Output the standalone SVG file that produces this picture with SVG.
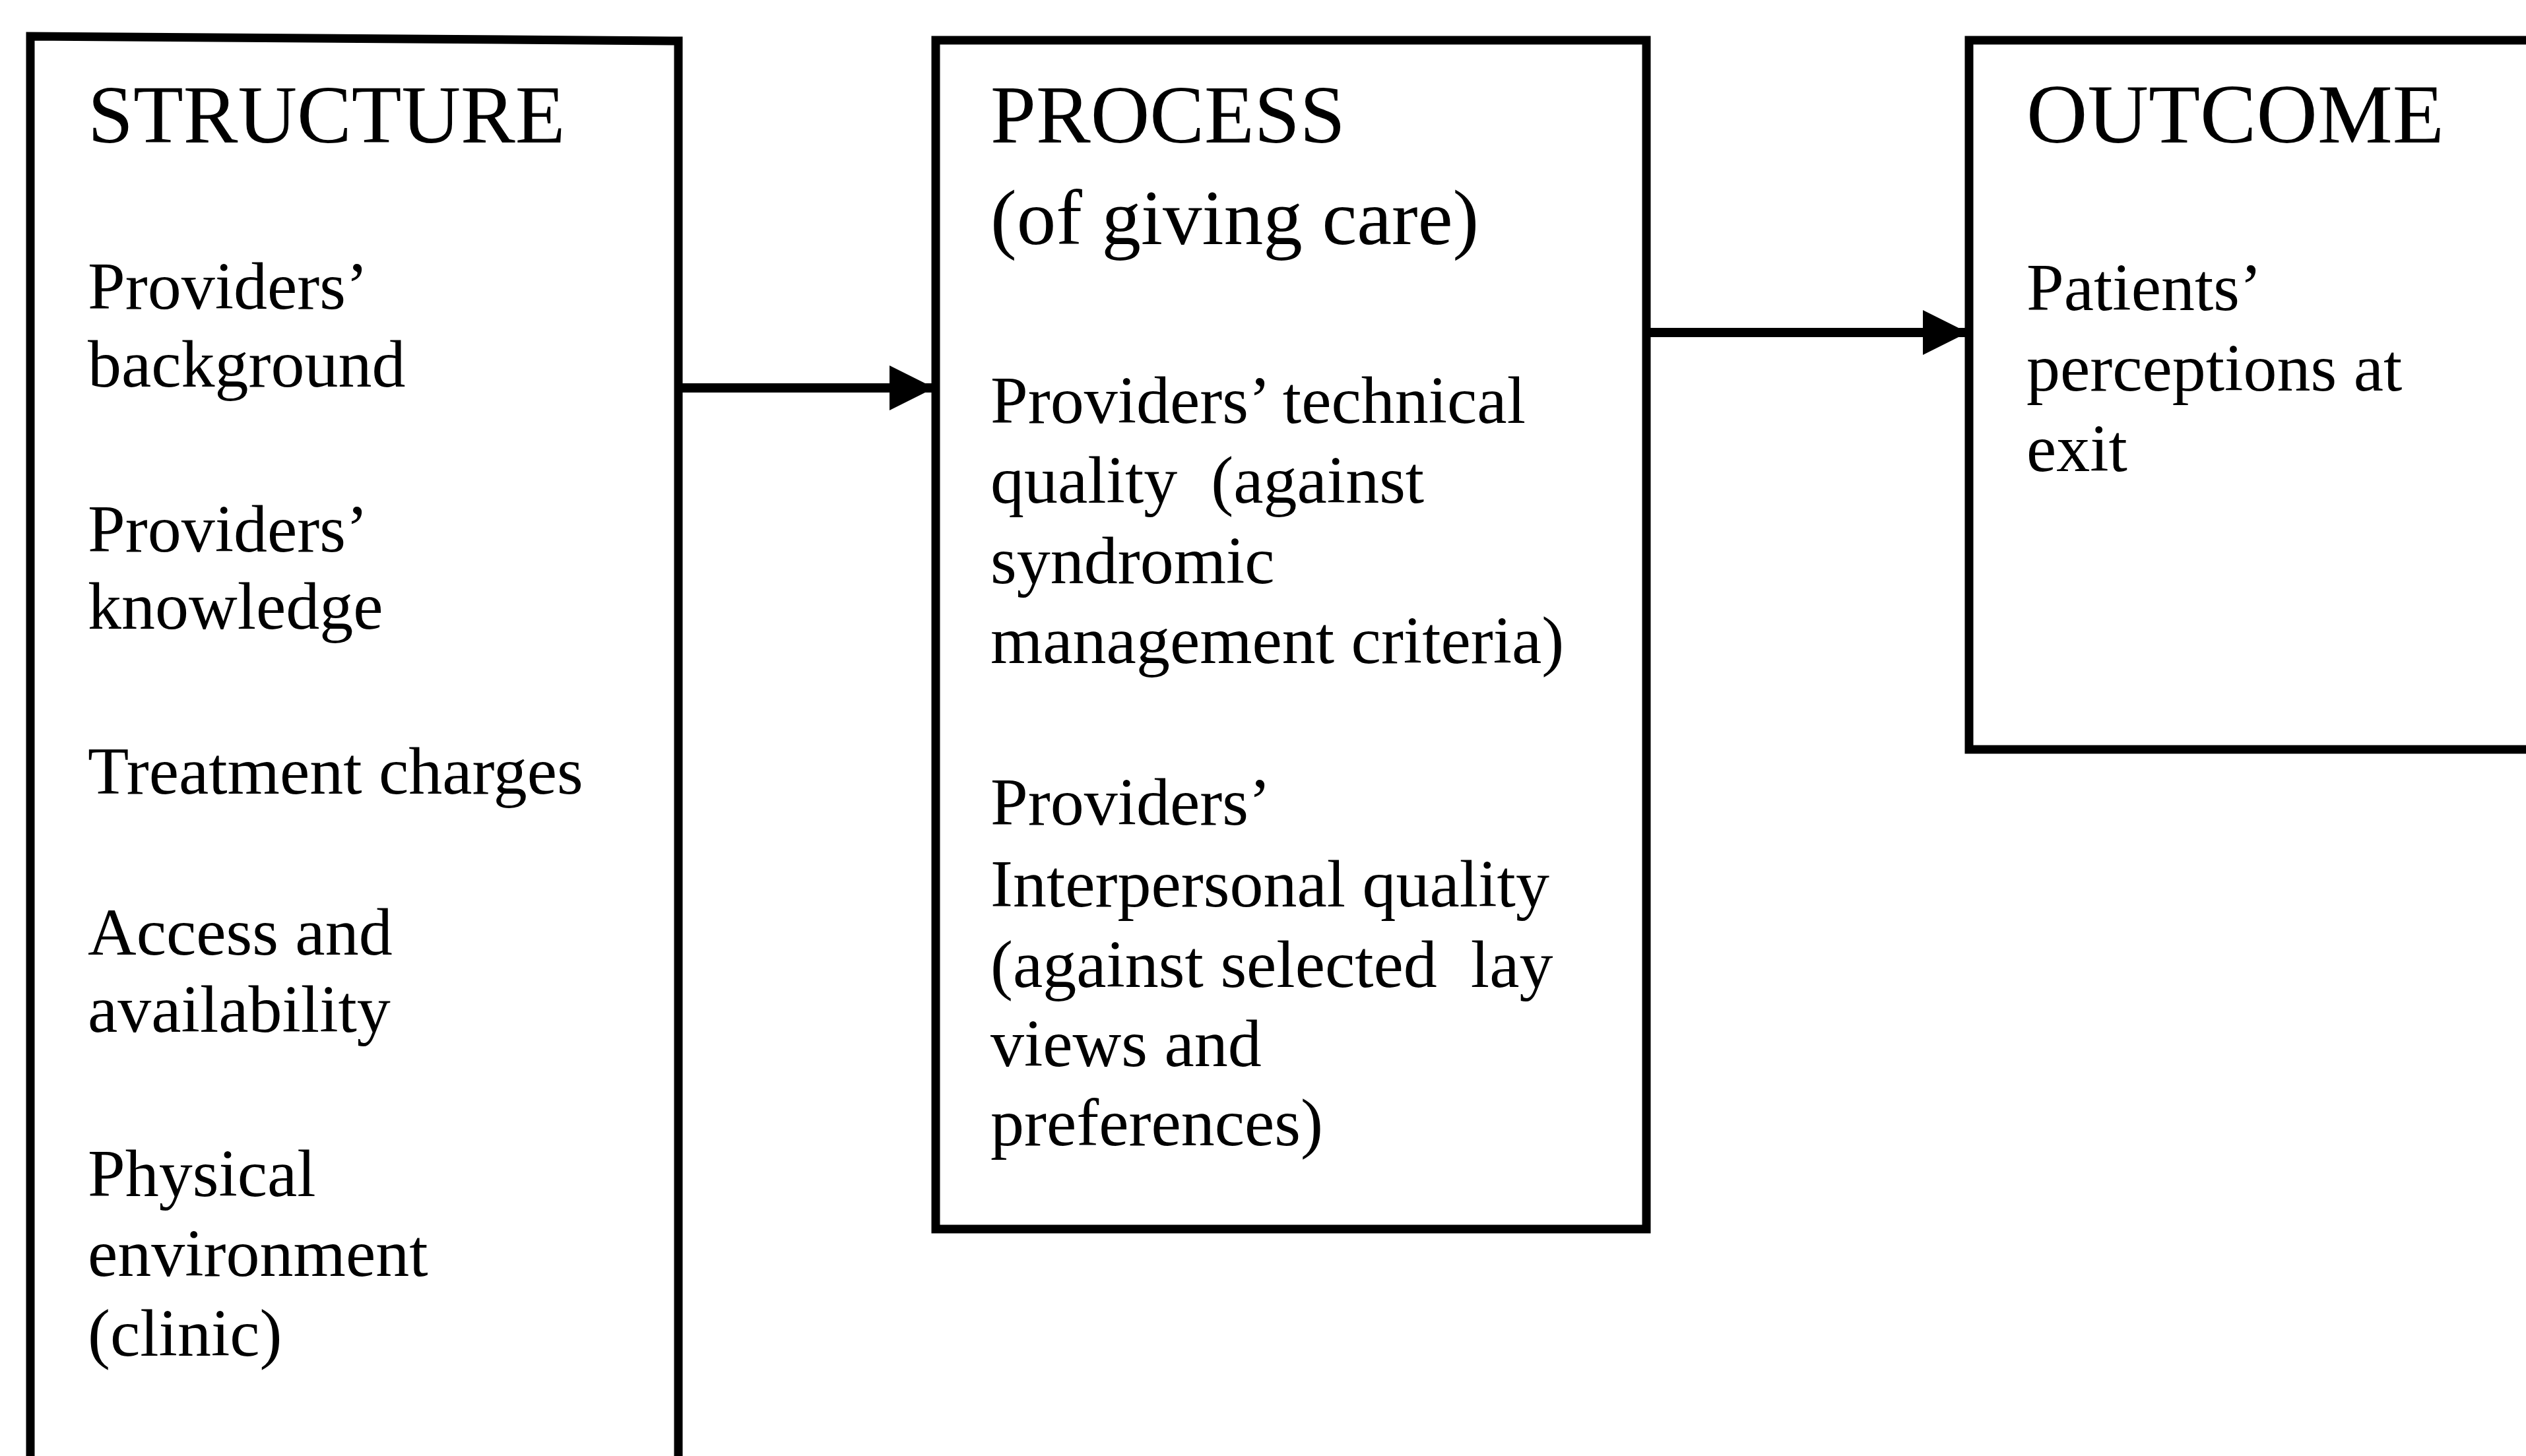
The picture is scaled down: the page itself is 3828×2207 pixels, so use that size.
<svg xmlns="http://www.w3.org/2000/svg" width="3828" height="2207" viewBox="0 0 3828 2207">
<style>
.box{fill:none;stroke:#000;stroke-width:13;stroke-linejoin:miter}
.conn{stroke:#000;stroke-width:14;fill:none}
text{font-family:"Liberation Serif","Times New Roman",serif;fill:#000;white-space:pre}
.h{font-size:124px}
.b{font-size:102px}
</style>
<defs>
<marker id="arr" markerUnits="userSpaceOnUse" markerWidth="70" markerHeight="68" refX="68" refY="34" orient="auto">
<path d="M0,0 L68,34 L0,68 Z" fill="#000"/>
</marker>
</defs>
<rect width="3828" height="2207" fill="#fff"/>
<g id="structure">
<path class="box" d="M46,2220 L46,55 L1028,62 L1028,2220"/>
<text class="h" x="133" y="216">STRUCTURE</text>
<text class="b" x="133" y="468">Providers’</text>
<text class="b" x="133" y="586">background</text>
<text class="b" x="133" y="836">Providers’</text>
<text class="b" x="133" y="953">knowledge</text>
<text class="b" x="133" y="1203">Treatment charges</text>
<text class="b" x="133" y="1447">Access and</text>
<text class="b" x="133" y="1564">availability</text>
<text class="b" x="133" y="1813">Physical</text>
<text class="b" x="133" y="1934">environment</text>
<text class="b" x="133" y="2055">(clinic)</text>
</g>
<g id="process">
<rect class="box" x="1418" y="61" width="1077" height="1802"/>
<text class="h" x="1501" y="216">PROCESS</text>
<text class="h" x="1501" y="370" style="font-size:119px">(of giving care)</text>
<text class="b" x="1501" y="641">Providers’ technical</text>
<text class="b" x="1501" y="762">quality  (against</text>
<text class="b" x="1501" y="884">syndromic</text>
<text class="b" x="1501" y="1005">management criteria)</text>
<text class="b" x="1501" y="1250">Providers’</text>
<text class="b" x="1501" y="1374">Interpersonal quality</text>
<text class="b" x="1501" y="1496">(against selected  lay</text>
<text class="b" x="1501" y="1616">views and</text>
<text class="b" x="1501" y="1736">preferences)</text>
</g>
<g id="outcome">
<path class="box" d="M3840,61 L2984,61 L2984,1136 L3840,1136"/>
<text class="h" x="3071" y="216" style="font-size:128px">OUTCOME</text>
<text class="b" x="3071" y="470">Patients’</text>
<text class="b" x="3071" y="592">perceptions at</text>
<text class="b" x="3071" y="714">exit</text>
</g>
<g id="connectors">
<line class="conn" x1="1028" y1="588" x2="1416" y2="588" marker-end="url(#arr)"/>
<line class="conn" x1="2495" y1="504" x2="2982" y2="504" marker-end="url(#arr)"/>
</g>
</svg>
